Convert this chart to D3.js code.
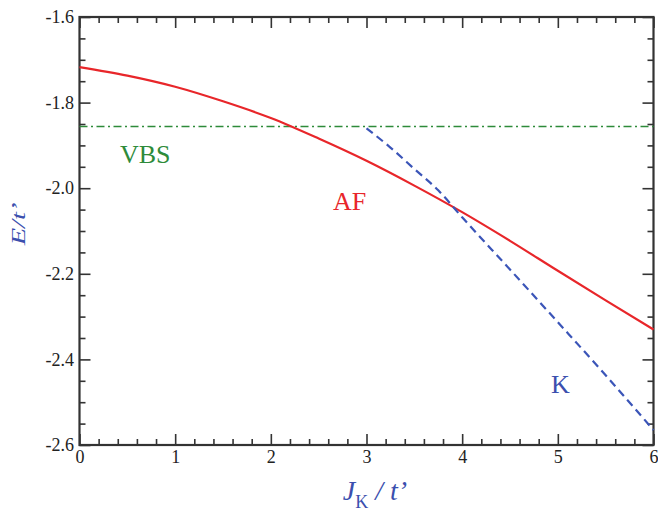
<!DOCTYPE html>
<html>
<head>
<meta charset="UTF-8">
<title>E vs JK</title>
<style>
  body { margin: 0; background: #fff; }
  svg { display: block; }
  .tick line { stroke: #333; stroke-width: 1.6; }
</style>
</head>
<body>
<div id="chart"></div>
<script src="https://d3js.org/d3.v7.min.js"></script>
<script>
// data
const afJ = [0, 0.5, 1, 1.5, 2, 2.5, 3, 3.5, 4, 4.5, 5, 5.5, 6];
const afE = [-1.717, -1.737, -1.763, -1.797, -1.836, -1.884, -1.936, -1.994, -2.056, -2.123, -2.193, -2.262, -2.330];

const kJ = [3, 3.25, 3.5, 3.75, 4, 4.5, 5, 5.5, 6];
const kE = [-1.860, -1.905, -1.955, -2.005, -2.068, -2.190, -2.313, -2.437, -2.565];

const vbsJ = [0, 6];
const vbsE = [-1.856, -1.856];

const xTicks = [0, 1, 2, 3, 4, 5, 6];
const yTicks = [-1.6, -1.8, -2.0, -2.2, -2.4, -2.6];

const width = 658, height = 511;
const mLeft = 79.5, mRight = 653.5, mTop = 17, mBottom = 445;
const serif = "Liberation Serif";

const svg = d3.select("#chart").append("svg").attr("width", width).attr("height", height)
  .attr("font-family", serif);

const x = d3.scaleLinear().domain([0, 6]).range([mLeft, mRight]);
const y = d3.scaleLinear().domain([-1.6, -2.6]).range([mTop, mBottom]);

const xMinor = d3.range(0, 6.001, 0.2).map(v => +v.toFixed(1)).filter(v => !xTicks.includes(v));
const yMinor = d3.range(-1.6, -2.601, -0.05).map(v => +v.toFixed(2)).filter(v => !yTicks.some(t => Math.abs(t - v) < 1e-6));

function axis(gen, scale, vals, size, fmt, pad, tr) {
  const g = svg.append("g").attr("transform", tr)
    .call(gen(scale).tickValues(vals).tickSizeInner(-size).tickSizeOuter(0).tickPadding(pad).tickFormat(fmt));
  g.select(".domain").remove();
  g.attr("font-family", serif).attr("font-size", 18);
  g.selectAll("text").attr("fill", "#222").attr("font-family", serif);
  return g;
}
const none = () => "";

axis(d3.axisBottom, x, xTicks, 11, d => d, 5, `translate(0,${mBottom})`);
axis(d3.axisBottom, x, xMinor, 6, none, 0, `translate(0,${mBottom})`);
axis(d3.axisTop, x, xTicks, 11, none, 0, `translate(0,${mTop})`);
axis(d3.axisTop, x, xMinor, 6, none, 0, `translate(0,${mTop})`);
axis(d3.axisLeft, y, yTicks, 11, d => d.toFixed(1), 5.5, `translate(${mLeft},0)`);
axis(d3.axisLeft, y, yMinor, 6, none, 0, `translate(${mLeft},0)`);
axis(d3.axisRight, y, yTicks, 11, none, 0, `translate(${mRight},0)`);
axis(d3.axisRight, y, yMinor, 6, none, 0, `translate(${mRight},0)`);

svg.append("rect")
  .attr("x", mLeft).attr("y", mTop)
  .attr("width", mRight - mLeft).attr("height", mBottom - mTop)
  .attr("fill", "none").attr("stroke", "#333").attr("stroke-width", 2.2);

const line = d3.line().x(d => x(d[0])).y(d => y(d[1])).curve(d3.curveMonotoneX);

svg.append("path")
  .datum(vbsJ.map((v, i) => [v, vbsE[i]]))
  .attr("d", line).attr("fill", "none")
  .attr("stroke", "#2e8b3a").attr("stroke-width", 1.6)
  .attr("stroke-dasharray", "8,3.5,2,3.5");

svg.append("path")
  .datum(afJ.map((v, i) => [v, afE[i]]))
  .attr("d", line).attr("fill", "none")
  .attr("stroke", "#e8262a").attr("stroke-width", 2.2);

svg.append("path")
  .datum(kJ.map((v, i) => [v, kE[i]]))
  .attr("d", line).attr("fill", "none")
  .attr("stroke", "#3b55b8").attr("stroke-width", 2.2)
  .attr("stroke-dasharray", "8,5");

function label(txt, lx, ly, col) {
  svg.append("text").attr("x", lx).attr("y", ly).attr("fill", col)
    .attr("font-family", serif).attr("font-size", 26).text(txt);
}
label("VBS", 120, 163, "#2e8b3a");
label("AF", 333, 210, "#e8262a");
label("K", 551, 393, "#3b4fae");

const xt = svg.append("text").attr("x", 375).attr("y", 500).attr("text-anchor", "middle")
  .attr("font-family", serif).attr("font-style", "italic").attr("font-size", 28).attr("fill", "#3b4fae");
xt.append("tspan").text("J");
xt.append("tspan").attr("font-size", 18).attr("dy", 8).attr("font-style", "normal").text("K");
xt.append("tspan").attr("dy", -8).text(" / t’");

svg.append("text")
  .attr("transform", "translate(25,224) rotate(-90) scale(1.5,1)")
  .attr("text-anchor", "middle")
  .attr("font-family", serif).attr("font-style", "italic").attr("font-size", 19).attr("fill", "#3b4fae")
  .text("E/t’");
</script>
</body>
</html>
